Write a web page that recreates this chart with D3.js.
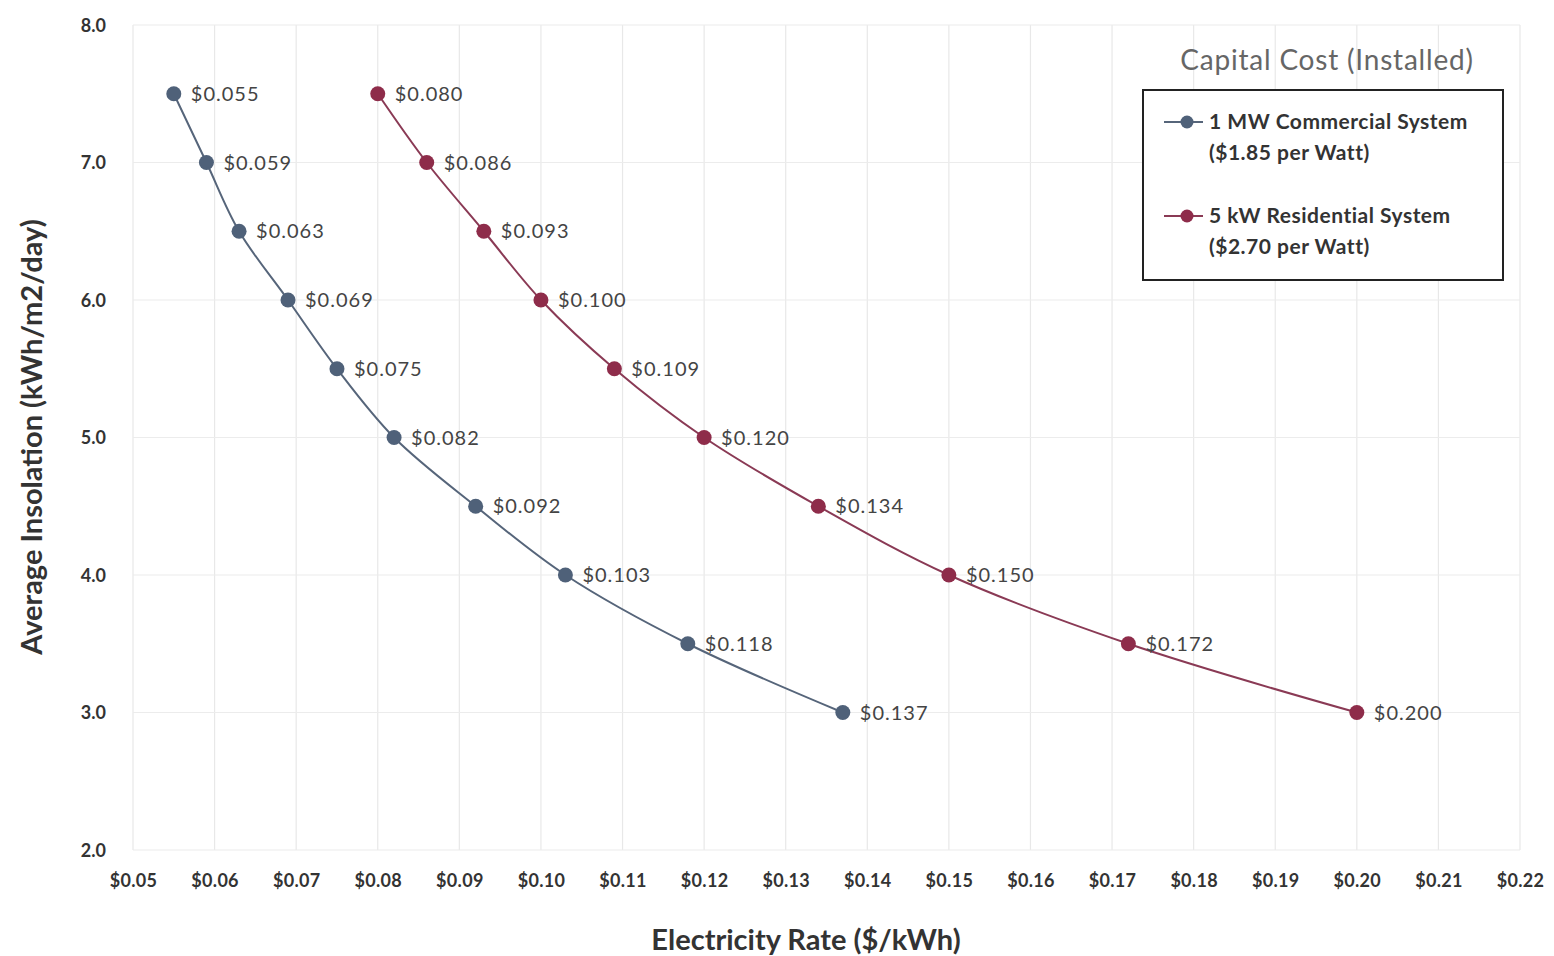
<!DOCTYPE html>
<html>
<head>
<meta charset="utf-8">
<script src="https://cdn.jsdelivr.net/npm/d3@7"></script>
<style>
  body { margin: 0; background: #fff; }
  svg text { font-family: Lato, "Open Sans", sans-serif; }
</style>
</head>
<body>
<svg id="chart" width="1554" height="956"></svg>
<script>
// insolation levels (y) shared by both series
var insolation = [7.5, 7.0, 6.5, 6.0, 5.5, 5.0, 4.5, 4.0, 3.5, 3.0];
var commercialRate  = [0.055, 0.059, 0.063, 0.069, 0.075, 0.082, 0.092, 0.103, 0.118, 0.137];
var residentialRate = [0.080, 0.086, 0.093, 0.100, 0.109, 0.120, 0.134, 0.150, 0.172, 0.200];
var seriesNames = ["1 MW Commercial System", "5 kW Residential System"];
var seriesSub   = ["($1.85 per Watt)", "($2.70 per Watt)"];
var xTicks = [0.05,0.06,0.07,0.08,0.09,0.10,0.11,0.12,0.13,0.14,0.15,0.16,0.17,0.18,0.19,0.20,0.21,0.22];
var yTicks = [2,3,4,5,6,7,8];

var svg = d3.select("#chart");
var margin = {left: 133, right: 34, top: 25, bottom: 106};
var W = +svg.attr("width"), H = +svg.attr("height");

var x = d3.scaleLinear().domain([0.05, 0.22]).range([margin.left, W - margin.right]);
var y = d3.scaleLinear().domain([2, 8]).range([H - margin.bottom, margin.top]);

// grid
svg.append("g").selectAll("line").data(xTicks).enter().append("line")
    .attr("x1", d => x(d)).attr("x2", d => x(d))
    .attr("y1", y(8)).attr("y2", y(2))
    .attr("stroke", "#e8e8e8").attr("stroke-width", 1.2);
svg.append("g").selectAll("line").data(yTicks).enter().append("line")
    .attr("x1", x(0.05)).attr("x2", x(0.22))
    .attr("y1", d => y(d)).attr("y2", d => y(d))
    .attr("stroke", "#ececec").attr("stroke-width", 1.2);

// axes (labels only, Excel style)
var xAxis = svg.append("g")
    .attr("transform", "translate(0," + (y(2) + 16) + ")")
    .call(d3.axisBottom(x).tickValues(xTicks).tickSize(0).tickFormat(d => "$" + d.toFixed(2)));
xAxis.select(".domain").remove();
xAxis.selectAll("text").attr("font-size", 18).attr("font-weight", "bold").attr("fill", "#333")
    .attr("letter-spacing", 0.3).attr("dy", "1em");

var yAxis = svg.append("g")
    .attr("transform", "translate(" + (x(0.05) - 24) + ",0)")
    .call(d3.axisLeft(y).tickValues(yTicks).tickSize(0).tickFormat(d3.format(".1f")));
yAxis.select(".domain").remove();
yAxis.selectAll("text").attr("font-size", 18).attr("font-weight", "bold").attr("fill", "#333")
    .attr("dy", "0.35em");

// axis titles
svg.append("text")
    .attr("x", 806).attr("y", 950)
    .attr("text-anchor", "middle")
    .attr("font-size", 29).attr("font-weight", "bold").attr("fill", "#333")
    .text("Electricity Rate ($/kWh)");
svg.append("text")
    .attr("transform", "translate(42,437) rotate(-90)")
    .attr("text-anchor", "middle")
    .attr("font-size", 29).attr("font-weight", "bold").attr("fill", "#333")
    .text("Average Insolation (kWh/m2/day)");

var series = [
  {rates: commercialRate,  line: "#56657a", dot: "#4f6179"},
  {rates: residentialRate, line: "#8a3a55", dot: "#8e2c4a"}
];

var line = d3.line()
    .x(d => x(d[0])).y(d => y(d[1]))
    .curve(d3.curveCatmullRom.alpha(0.5));

series.forEach(function(s){
  var pts = s.rates.map((r, i) => [r, insolation[i]]);
  svg.append("path")
      .datum(pts)
      .attr("d", line)
      .attr("fill", "none")
      .attr("stroke", s.line)
      .attr("stroke-width", 2);
  var g = svg.append("g");
  g.selectAll("circle").data(pts).enter().append("circle")
      .attr("cx", d => x(d[0])).attr("cy", d => y(d[1]))
      .attr("r", 7.5).attr("fill", s.dot);
  g.selectAll("text").data(pts).enter().append("text")
      .attr("x", d => x(d[0]) + 17).attr("y", d => y(d[1]))
      .attr("dy", "0.35em")
      .attr("font-size", 20).attr("letter-spacing", 1).attr("fill", "#444")
      .text(d => "$" + d[0].toFixed(3));
});

// legend
svg.append("text")
    .attr("x", 1327).attr("y", 70)
    .attr("text-anchor", "middle")
    .attr("font-size", 28).attr("letter-spacing", 0.8).attr("fill", "#666")
    .text("Capital Cost (Installed)");
svg.append("rect")
    .attr("x", 1143).attr("y", 90).attr("width", 360).attr("height", 190)
    .attr("fill", "#fff").attr("stroke", "#222").attr("stroke-width", 2);

var legY = [122, 216];
series.forEach(function(s, i){
  svg.append("line")
      .attr("x1", 1164).attr("x2", 1203).attr("y1", legY[i]).attr("y2", legY[i])
      .attr("stroke", s.line).attr("stroke-width", 2);
  svg.append("circle")
      .attr("cx", 1187).attr("cy", legY[i]).attr("r", 6.5).attr("fill", s.dot);
  svg.append("text")
      .attr("x", 1209).attr("y", legY[i]).attr("dy", "0.35em")
      .attr("font-size", 21).attr("font-weight", "bold").attr("letter-spacing", 0.5).attr("fill", "#333")
      .text(seriesNames[i]);
  svg.append("text")
      .attr("x", 1209).attr("y", legY[i] + 31).attr("dy", "0.35em")
      .attr("font-size", 21).attr("font-weight", "bold").attr("letter-spacing", 0.5).attr("fill", "#333")
      .text(seriesSub[i]);
});
</script>
</body>
</html>
